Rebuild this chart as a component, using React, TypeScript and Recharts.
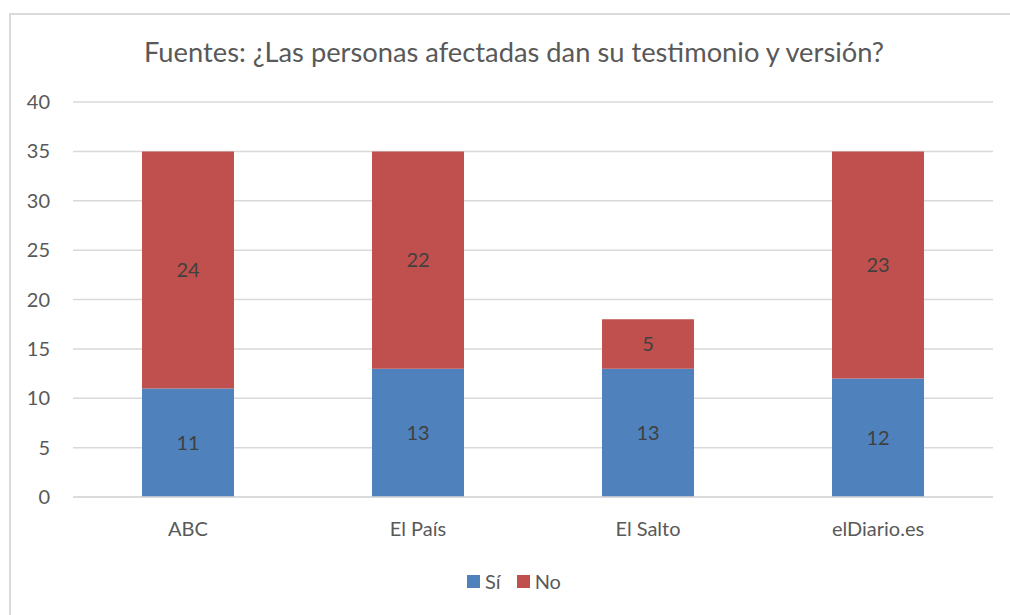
import React from 'react';
import { BarChart, Bar, XAxis, YAxis, CartesianGrid, Legend, LabelList } from 'recharts';

const categories = ['ABC', 'El País', 'El Salto', 'elDiario.es'];
const siValues = [11, 13, 13, 12];
const noValues = [24, 22, 5, 23];
const yTicks = [0, 5, 10, 15, 20, 25, 30, 35, 40];
const seriesOrder = ['si', 'no'];

const data = categories.map((name, i) => ({ name, si: siValues[i], no: noValues[i] }));

const FONT = 'Lato, "Open Sans", sans-serif';
const TEXT = '#595959';

const renderLegend = (props: any) => {
  const payload = [...(props.payload || [])].sort(
    (a: any, b: any) => seriesOrder.indexOf(a.dataKey) - seriesOrder.indexOf(b.dataKey)
  );
  return (
    <div style={{ display: 'flex', justifyContent: 'center', alignItems: 'center', fontFamily: FONT, fontSize: 20, color: TEXT }}>
      {payload.map((p: any, i: number) => (
        <div key={i} style={{ display: 'flex', alignItems: 'center', marginRight: i === payload.length - 1 ? 0 : 16 }}>
          <span style={{ display: 'inline-block', width: 13, height: 13, background: p.color, marginRight: 5 }} />
          <span>{p.value}</span>
        </div>
      ))}
    </div>
  );
};

export default function App() {
  return (
    <div style={{ position: 'absolute', left: 0, top: 0, width: 1010, height: 615, overflow: 'hidden', background: '#fff' }}>
      <div style={{ position: 'absolute', left: 9, top: 13, width: 1040, height: 640, border: '2px solid #d9d9d9', boxSizing: 'border-box' }} />
      <div style={{ position: 'absolute', left: 9, top: 34, width: 1010, textAlign: 'center', fontFamily: FONT, fontSize: 27.3, color: TEXT, lineHeight: '36px' }}>
        Fuentes: ¿Las personas afectadas dan su testimonio y versión?
      </div>
      <div style={{ position: 'absolute', left: 0, top: 0 }}>
        <BarChart width={1010} height={615} data={data} margin={{ top: 102, right: 17, left: 13, bottom: 78 }} barSize={92}>
          <CartesianGrid vertical={false} stroke="#d9d9d9" strokeWidth={1.5} />
          <XAxis dataKey="name" height={40} axisLine={{ stroke: '#d9d9d9', strokeWidth: 1.5 }} tickLine={false} tickSize={0} tickMargin={25} tick={{ fill: TEXT, fontSize: 20, fontFamily: FONT }} />
          <YAxis domain={[0, 40]} ticks={yTicks} width={60} axisLine={false} tickLine={false} tickSize={0} tickMargin={23} tick={{ fill: TEXT, fontSize: 20, fontFamily: FONT }} />
          <Legend verticalAlign="middle" align="center" layout="horizontal" wrapperStyle={{ top: 569, left: 9, width: 1010 }} content={renderLegend} />
          <Bar dataKey="si" name="Sí" stackId="a" fill="#4f81bd" isAnimationActive={false}>
            <LabelList dataKey="si" position="center" fill="#404040" fontSize={20} fontFamily={FONT} />
          </Bar>
          <Bar dataKey="no" name="No" stackId="a" fill="#c0504d" isAnimationActive={false}>
            <LabelList dataKey="no" position="center" fill="#404040" fontSize={20} fontFamily={FONT} />
          </Bar>
        </BarChart>
      </div>
    </div>
  );
}
